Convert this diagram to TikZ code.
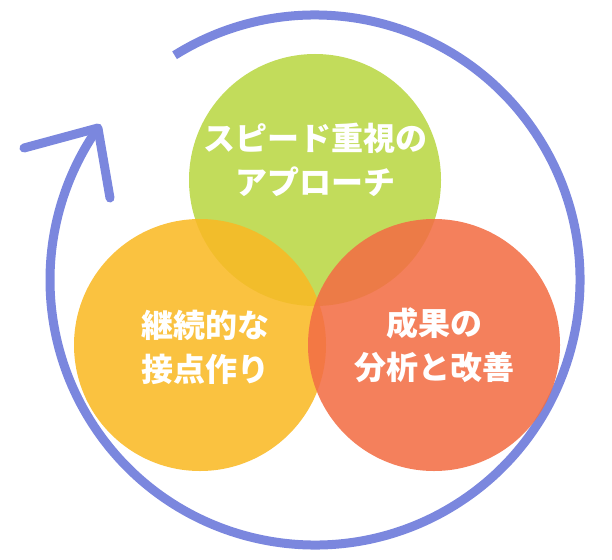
\documentclass[tikz,border=0pt]{standalone}
\usepackage{fontspec}
\newfontfamily\cjk{Noto Sans CJK JP Black}
\definecolor{cyclecol}{HTML}{7B87DE}
\definecolor{greencol}{HTML}{B9D744}
\definecolor{yellowcol}{HTML}{F9B925}
\definecolor{redcol}{HTML}{F36E45}
\begin{document}
\begin{tikzpicture}[
    x=1pt, y=-1pt,
    font=\cjk\fontsize{32}{44}\selectfont,
    blob/.style={circle, minimum size=252pt, inner sep=0pt, fill opacity=0.88},
    label/.style={text=white, align=center}
]
    \useasboundingbox (0,0) rectangle (612,559);

    % Cycle arrow
    \draw[cyclecol, line width=9pt] (315,280) ++(-122:265) arc[start angle=-122, end angle=215, radius=265] coordinate (tip);
    \draw[cyclecol, line width=9pt, line cap=round, line join=round] (24,148) -- (tip) -- (110,198);

    % Circles
    \node[blob, fill=greencol] (speed) at (315,180) {};
    \node[blob, fill=yellowcol] (contact) at (200,345) {};
    \node[blob, fill=redcol] (result) at (434,345) {};

    % Labels
    \node[label] at (speed) [yshift=20pt] {スピード重視の\\アプローチ};
    \node[label] at (contact) [xshift=5pt, yshift=-2pt] {継続的な\\接点作り};
    \node[label] at (result) {成果の\\分析と改善};
\end{tikzpicture}
\end{document}
